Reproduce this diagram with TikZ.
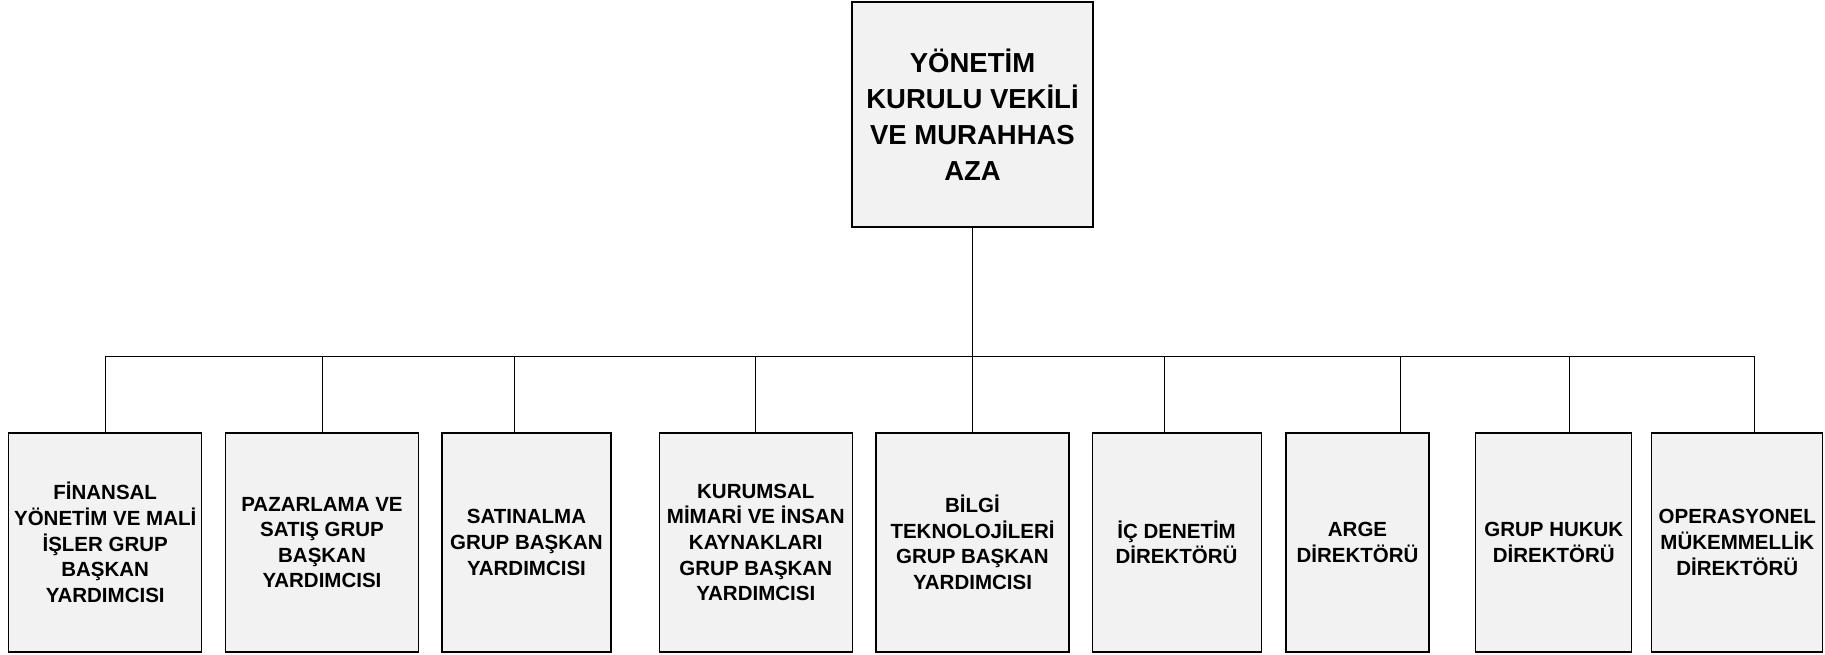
\documentclass[tikz,border=0pt]{standalone}
\usepackage{fontspec}
\setmainfont{Liberation Sans}
\usepackage{tikz}

\begin{document}
\begin{tikzpicture}[x=1pt,y=1pt,
    unitbox/.style={draw=black, line width=1.1pt, fill=black!5, inner sep=0pt,
        align=center, font=\bfseries\fontsize{20.5}{25.6}\selectfont,
        minimum height=219pt},
    headbox/.style={unitbox, font=\bfseries\fontsize{27.5}{36}\selectfont,
        minimum width=241pt, minimum height=225pt},
    link/.style={draw=black, line width=0.9pt}]
    \useasboundingbox (0,0) rectangle (1825,-654);
    % 	\draw (0,-356) -- (1825,-356);
        \node [headbox] (head) at (972.5,-114.5) {YÖNETİM\\KURULU VEKİLİ\\VE MURAHHAS\\AZA};
        \coordinate (bus) at (972.5,-356);

        \node [unitbox, minimum width=193pt] (finans) at (105.2,-542.5) {FİNANSAL\\YÖNETİM VE MALİ\\İŞLER GRUP\\BAŞKAN\\YARDIMCISI};
        \node [unitbox, minimum width=193pt] (pazar) at (322,-542.5) {PAZARLAMA VE\\SATIŞ GRUP\\BAŞKAN\\YARDIMCISI};
        \node [unitbox, minimum width=169pt] (satin) at (526.5,-542.5) {SATINALMA\\GRUP BAŞKAN\\YARDIMCISI};
        \node [unitbox, minimum width=193pt] (kurum) at (755.8,-542.5) {KURUMSAL\\MİMARİ VE İNSAN\\KAYNAKLARI\\GRUP BAŞKAN\\YARDIMCISI};
        \node [unitbox, minimum width=193pt] (bilgi) at (972.5,-542.5) {BİLGİ\\TEKNOLOJİLERİ\\GRUP BAŞKAN\\YARDIMCISI};
        \node [unitbox, minimum width=169pt] (denetim) at (1176.6,-542.5) {İÇ DENETİM\\DİREKTÖRÜ};
        \node [unitbox, minimum width=143pt] (arge) at (1357.5,-542.5) {ARGE\\DİREKTÖRÜ};
        \node [unitbox, minimum width=156pt] (hukuk) at (1553.8,-542.5) {GRUP HUKUK\\DİREKTÖRÜ};
        \node [unitbox, minimum width=171pt] (opera) at (1737.3,-542.5) {OPERASYONEL\\MÜKEMMELLİK\\DİREKTÖRÜ};

        \draw [link] (head.south) -- (bus);
        \draw [link] (finans.north) |- (bus);
        \draw [link] (pazar.north) |- (bus);
        \draw [link] ([xshift=-12pt]satin.north) |- (bus);
        \draw [link] (kurum.north) |- (bus);
        \draw [link] (bilgi.north) -- (bus);
        \draw [link] ([xshift=-12pt]denetim.north) |- (bus);
        \draw [link] ([xshift=42.5pt]arge.north) |- (bus);
        \draw [link] ([xshift=16pt]hukuk.north) |- (bus);
        \draw [link] ([xshift=17pt]opera.north) |- (bus);
    \end{tikzpicture}
\end{document}
